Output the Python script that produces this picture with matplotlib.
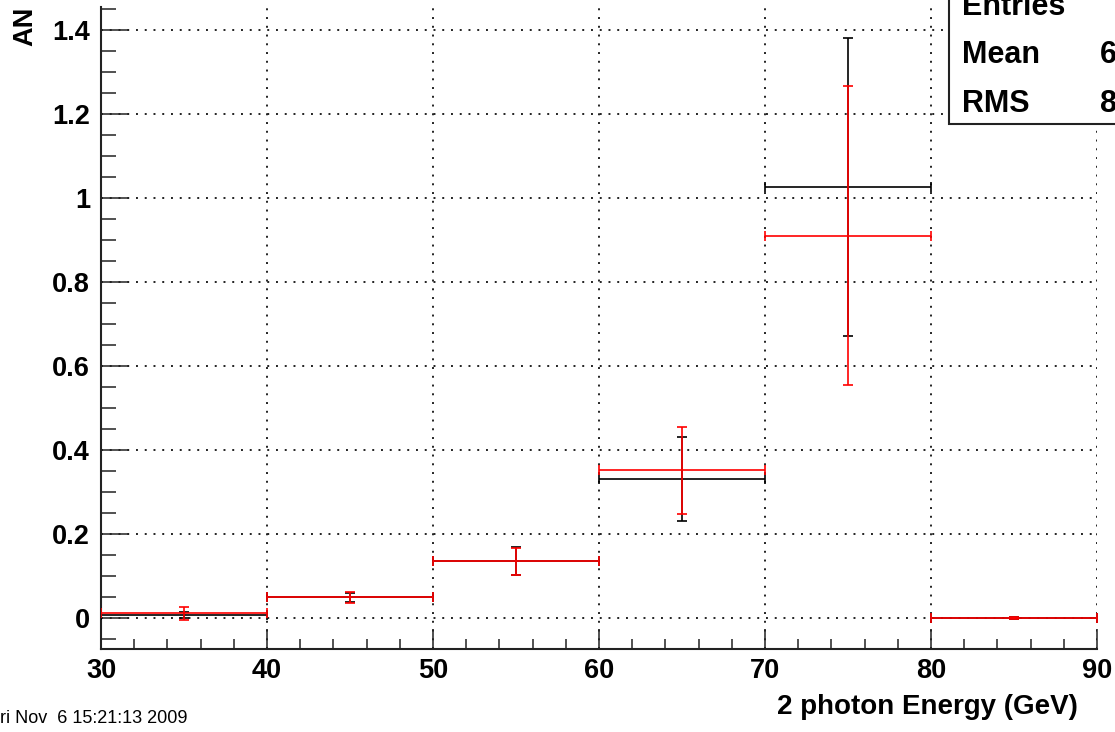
import matplotlib
matplotlib.use("Agg")
import matplotlib.pyplot as plt
from matplotlib.ticker import MultipleLocator, FuncFormatter
from matplotlib.patches import Rectangle

# ---- data ----
bin_centers = [35, 45, 55, 65, 75, 85]
bin_half_width = [5, 5, 5, 5, 5, 5]
black_vals = [0.007, 0.049, 0.136, 0.331, 1.026, 0.0]
black_errs = [0.008, 0.010, 0.034, 0.101, 0.355, 0.002]
red_vals = [0.011, 0.049, 0.135, 0.352, 0.910, 0.0]
red_errs = [0.016, 0.014, 0.032, 0.104, 0.356, 0.003]
x_ticks = [30, 40, 50, 60, 70, 80, 90]
y_ticks = [0, 0.2, 0.4, 0.6, 0.8, 1.0, 1.2, 1.4]
stats_labels = ["Entries", "Mean", "RMS"]
stats_values = ["", "6", "8"]

W, H = 1115, 732
fig = plt.figure(figsize=(W / 100, H / 100), dpi=100)
plt.rcParams['font.family'] = ['Liberation Sans', 'DejaVu Sans']

L, R, B, T = 101, 1097, 649, 7
ax = fig.add_axes([L / W, 1 - B / H, (R - L) / W, (B - T) / H])

ax.set_xlim(30, 90)
ax.set_ylim(-0.0738, 1.455)

ax.errorbar(bin_centers, black_vals, xerr=bin_half_width, yerr=black_errs,
            fmt='none', ecolor='black', elinewidth=1.2, capsize=3.3, capthick=1.2, zorder=3)
ax.errorbar(bin_centers, red_vals, xerr=bin_half_width, yerr=red_errs,
            fmt='none', ecolor='#ff0000', elinewidth=1.2, capsize=3.3, capthick=1.2, zorder=4)

ax.set_xticks(x_ticks)
ax.set_yticks(y_ticks)
ax.xaxis.set_minor_locator(MultipleLocator(2))
ax.yaxis.set_minor_locator(MultipleLocator(0.05))
ax.yaxis.set_major_formatter(FuncFormatter(lambda v, p: "%g" % round(v, 3)))
ax.xaxis.set_major_formatter(FuncFormatter(lambda v, p: "%g" % v))

ax.tick_params(axis='both', which='both', direction='in', width=1.1, color='#222222')
ax.tick_params(axis='x', which='major', length=14.4, labelsize=19.5, pad=6.5)
ax.tick_params(axis='x', which='minor', length=7.2)
ax.tick_params(axis='y', which='major', length=20, labelsize=19.5, pad=8)
ax.tick_params(axis='y', which='minor', length=11)
for lab in ax.get_xticklabels() + ax.get_yticklabels():
    lab.set_fontweight('bold')

ax.grid(True, which='major', color='#222222', linestyle=(0, (1, 3.5)), linewidth=1.4)
ax.set_axisbelow(True)

for s in ['top', 'right']:
    ax.spines[s].set_visible(False)
for s in ['left', 'bottom']:
    ax.spines[s].set_linewidth(1.5)
    ax.spines[s].set_color('#222222')

# axis labels
fig.text(25 / W, 1 - 7 / H, "AN", rotation=90, ha='center', va='top',
         fontsize=19.5, fontweight='bold')
fig.text(1078 / W, 1 - 714 / H, "2 photon Energy (GeV)", ha='right', va='baseline',
         fontsize=20, fontweight='bold')
fig.text(0 / W, 1 - 723 / H, "ri Nov  6 15:21:13 2009", ha='left', va='baseline',
         fontsize=13)

# stats box
box = Rectangle((949 / W, 1 - 124 / H), (W + 20 - 949) / W, (124 + 20) / H,
                transform=fig.transFigure, facecolor='white', edgecolor='#222222',
                linewidth=1.5, zorder=10, clip_on=False)
fig.add_artist(box)
rows_y = [15, 63, 112]
for lab, val, yb in zip(stats_labels, stats_values, rows_y):
    fig.text(962 / W, 1 - yb / H, lab, ha='left', va='baseline', fontsize=22,
             fontweight='bold', zorder=11)
    if val:
        fig.text(1100 / W, 1 - yb / H, val, ha='left', va='baseline', fontsize=22,
                 fontweight='bold', zorder=11)

fig.savefig("out.png", dpi=100)
